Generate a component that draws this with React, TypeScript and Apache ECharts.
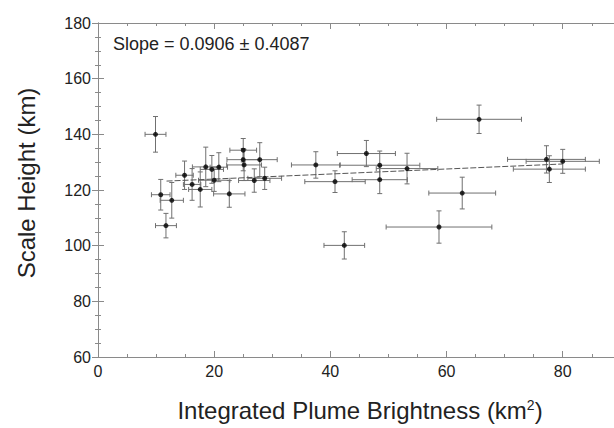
import React, { useEffect, useRef } from "react";
import * as echarts from "echarts";

const xs = [9.9, 10.8, 12.7, 11.7, 14.9, 16.2, 17.6, 18.55, 19.6, 20.8, 20.0, 22.6, 25.0, 25.0, 25.15, 27.85, 26.9, 28.7, 37.5, 40.8, 46.2, 48.5, 48.5, 53.2, 42.4, 58.7, 62.7, 65.6, 77.2, 77.7, 80.0];
const ys = [140.0, 118.3, 116.3, 107.2, 125.3, 122.0, 120.2, 128.3, 127.4, 128.2, 123.5, 118.6, 134.3, 130.9, 129.0, 130.9, 123.4, 124.2, 129.0, 123.0, 133.1, 128.9, 123.7, 127.7, 100.1, 106.7, 118.9, 145.4, 131.0, 127.5, 130.3];
const xErr = [1.8, 1.6, 2.0, 1.8, 1.5, 1.5, 2.0, 2.3, 2.0, 1.5, 2.7, 2.7, 2.3, 2.8, 3.0, 3.0, 2.7, 2.9, 4.2, 5.2, 5.0, 6.9, 4.75, 5.3, 3.5, 9.1, 5.75, 7.3, 6.7, 6.2, 6.3];
const yErr = [6.4, 5.5, 6.4, 4.4, 5.1, 5.7, 6.3, 7.1, 5.0, 5.2, 4.0, 4.8, 4.2, 4.0, 5.6, 6.1, 4.2, 4.0, 4.75, 3.9, 4.7, 5.1, 5.0, 5.5, 4.9, 5.8, 5.7, 5.1, 4.9, 4.8, 4.3];
const fitX = [11.8, 80];
const fitY = [123.2, 129.35];
const slopeText = "Slope = 0.0906 ± 0.4087";
const xTitle = "Integrated Plume Brightness (km{s|2})";
const yTitle = "Scale Height (km)";

const FONT = "'Liberation Sans', Arial, sans-serif";
const AXIS_COLOR = "#8a8a8a";
const TEXT_COLOR = "#222";

export default function App() {
  const ref = useRef<HTMLDivElement>(null);
  useEffect(() => {
    if (!ref.current) return;
    const chart = echarts.init(ref.current, null, { renderer: "svg" });
    const lineStyle = { color: AXIS_COLOR, width: 1 };
    const xBase = { type: "value", min: 0, max: 89, splitLine: { show: false } };
    const yBase = { type: "value", min: 60, max: 180, interval: 20, splitLine: { show: false } };
    const errData = xs.map((x, i) => [x, ys[i], xErr[i], yErr[i]]);
    const option: any = {
      animation: false,
      grid: { left: 98, top: 23, width: 517, height: 334, outerBoundsMode: "none" },
      xAxis: [
        {
          ...xBase, position: "bottom", interval: 5,
          axisLine: { show: true, lineStyle },
          axisTick: { show: true, inside: true, length: 3, lineStyle },
          axisLabel: {
            show: true, fontSize: 16, color: TEXT_COLOR, fontFamily: FONT, margin: 6,
            formatter: (v: number) => (v % 20 === 0 ? String(v) : ""),
          },
        },
        {
          ...xBase, position: "bottom", interval: 20,
          axisLine: { show: false },
          axisTick: { show: true, inside: true, length: 6, lineStyle },
          axisLabel: { show: false },
        },
        {
          ...xBase, position: "top", interval: 5,
          axisLine: { show: true, lineStyle },
          axisTick: { show: true, inside: true, length: 3, lineStyle },
          axisLabel: { show: false },
        },
        {
          ...xBase, position: "top", interval: 20,
          axisLine: { show: false },
          axisTick: { show: true, inside: true, length: 6, lineStyle },
          axisLabel: { show: false },
        },
      ],
      yAxis: [
        {
          ...yBase, position: "left",
          axisLine: { show: true, lineStyle },
          axisTick: { show: true, inside: true, length: 6, lineStyle },
          minorTick: { show: true, splitNumber: 4, length: 3, lineStyle },
          axisLabel: { show: true, fontSize: 16, color: TEXT_COLOR, fontFamily: FONT, margin: 7 },
        },
        {
          ...yBase, position: "right",
          axisLine: { show: true, lineStyle },
          axisTick: { show: true, inside: true, length: 6, lineStyle },
          minorTick: { show: true, splitNumber: 4, length: 3, lineStyle },
          axisLabel: { show: false },
        },
      ],
      series: [
        {
          type: "custom",
          xAxisIndex: 0,
          yAxisIndex: 0,
          data: errData,
          encode: { x: 0, y: 1 },
          z: 2,
          renderItem: (params: any, api: any) => {
            const x = api.value(0);
            const y = api.value(1);
            const ex = api.value(2);
            const ey = api.value(3);
            const l = api.coord([x - ex, y]);
            const r = api.coord([x + ex, y]);
            const t = api.coord([x, y + ey]);
            const b = api.coord([x, y - ey]);
            const c = 2.5;
            const style = { stroke: "#707070", lineWidth: 1, fill: null };
            const ln = (x1: number, y1: number, x2: number, y2: number) => ({
              type: "line", shape: { x1, y1, x2, y2 }, style,
            });
            return {
              type: "group",
              children: [
                ln(l[0], l[1], r[0], r[1]),
                ln(l[0], l[1] - c, l[0], l[1] + c),
                ln(r[0], r[1] - c, r[0], r[1] + c),
                ln(t[0], t[1], b[0], b[1]),
                ln(t[0] - c, t[1], t[0] + c, t[1]),
                ln(b[0] - c, b[1], b[0] + c, b[1]),
              ],
            };
          },
        },
        {
          type: "line",
          xAxisIndex: 0,
          yAxisIndex: 0,
          data: fitX.map((x, i) => [x, fitY[i]]),
          symbol: "none",
          z: 3,
          lineStyle: { color: "#555", width: 1, type: [6, 2] },
        },
        {
          type: "scatter",
          xAxisIndex: 0,
          yAxisIndex: 0,
          data: xs.map((x, i) => [x, ys[i]]),
          symbol: "circle",
          symbolSize: 5,
          z: 4,
          itemStyle: { color: "#000" },
        },
      ],
      graphic: [
        {
          type: "text", left: 113, top: 35,
          style: { text: slopeText, fontSize: 18, fontFamily: FONT, fill: TEXT_COLOR },
        },
        {
          type: "text", x: 360, y: 410.5,
          style: {
            text: xTitle, fontSize: 24, fontFamily: FONT, fill: TEXT_COLOR, align: "center", verticalAlign: "middle",
            rich: { s: { fontSize: 14, fontFamily: FONT, fill: TEXT_COLOR, padding: [0, 0, 11, 0] } },
          },
        },
        {
          type: "text", x: 26, y: 183, rotation: Math.PI / 2,
          style: { text: yTitle, fontSize: 24, fontFamily: FONT, fill: TEXT_COLOR, align: "center", verticalAlign: "middle" },
        },
      ],
    };
    chart.setOption(option);
    return () => chart.dispose();
  }, []);
  return <div ref={ref} style={{ position: "absolute", left: 0, top: 0, width: 614, height: 428 }} />;
}
